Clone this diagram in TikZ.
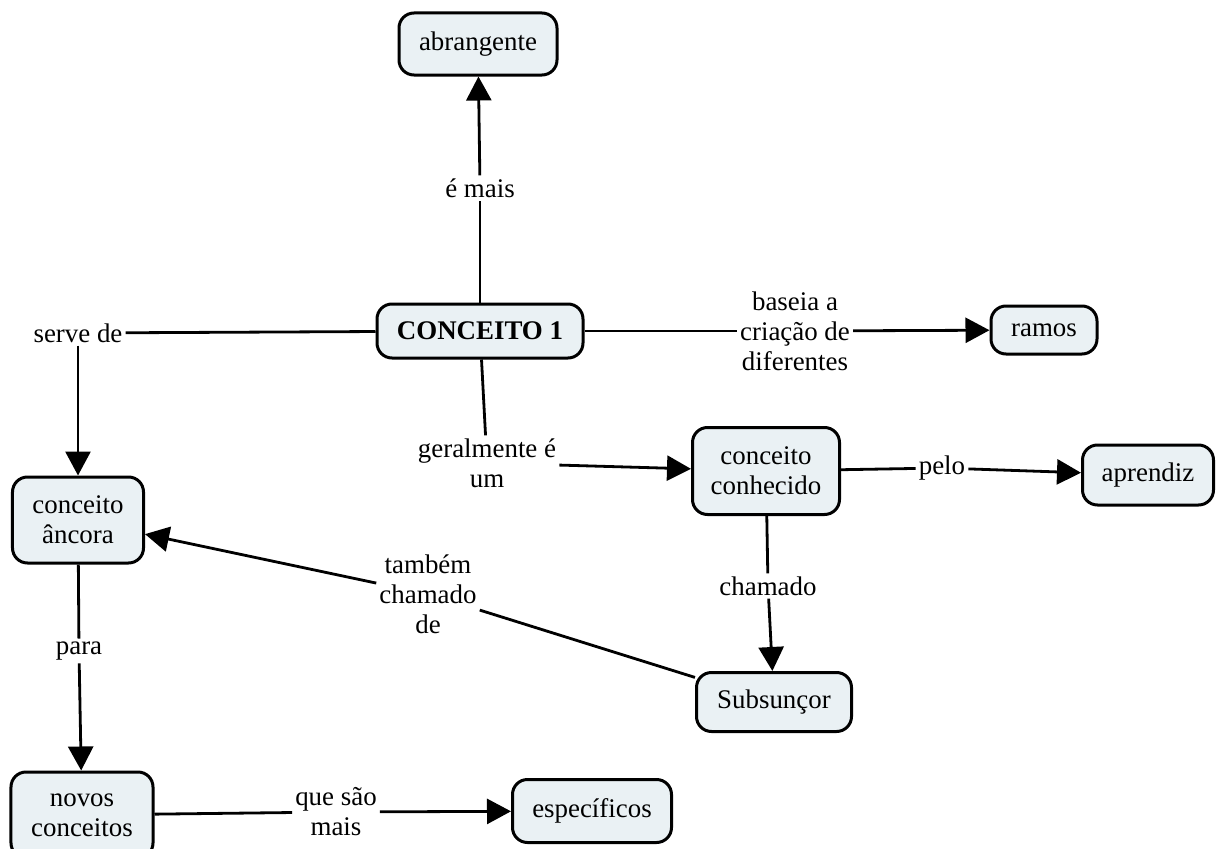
\documentclass[tikz,border=0pt]{standalone}
\usepackage{fontspec}
\setmainfont{Liberation Serif}
\usetikzlibrary{arrows.meta}
\definecolor{conceptfill}{HTML}{EAF1F4}
\begin{document}
\begin{tikzpicture}[x=1bp,y=-1bp,
  concept/.style={draw=black, line width=3bp, fill=conceptfill,
    rounded corners=15bp, align=center, inner sep=0pt,
    font=\fontsize{27}{30}\selectfont},
  linkword/.style={align=center, inner sep=3bp,
    font=\fontsize{27}{30}\selectfont},
  link/.style={line width=2.8bp},
  arrowlink/.style={line width=2.8bp, -{Triangle[length=24bp,width=25bp]}}
]
\useasboundingbox (0,0) rectangle (1217,849);

% concepts
\node[concept, minimum width=158bp, minimum height=62bp] (abr) at (478,44) {abrangente};
\node[concept, minimum width=206bp, minimum height=54bp,
      font=\fontsize{27}{30}\selectfont\bfseries] (c1) at (480,331) {CONCEITO 1};
\node[concept, minimum width=106bp, minimum height=48bp] (ramos) at (1044,330) {ramos};
\node[concept, minimum width=147bp, minimum height=87bp] (conh) at (766,471) {conceito\\conhecido};
\node[concept, minimum width=131bp, minimum height=60bp] (apr) at (1148,475) {aprendiz};
\node[concept, minimum width=131bp, minimum height=86bp] (anc) at (78,520) {conceito\\âncora};
\node[concept, minimum width=155bp, minimum height=59bp] (sub) at (774,702) {Subsunçor};
\node[concept, minimum width=142bp, minimum height=86bp] (novos) at (82,815) {novos\\conceitos};
\node[concept, minimum width=159bp, minimum height=63bp] (esp) at (592,811) {específicos};

% linking phrases
\node[linkword] (lmais) at (480,188) {é mais};
\node[linkword] (lserve) at (78,333) {serve de};
\node[linkword] (lbase) at (795,331) {baseia a\\criação de\\diferentes};
\node[linkword] (lgeral) at (487,463) {geralmente é\\um};
\node[linkword] (lpelo) at (942,468) {pelo};
\node[linkword] (lcham) at (768,586) {chamado};
\node[linkword] (ltamb) at (428,594) {também\\chamado\\de};
\node[linkword] (lpara) at (79,651) {para};
\node[linkword] (lque) at (336,812) {que são\\mais};

% connections
\draw[link] (c1) -- (lmais);
\draw[arrowlink] (lmais) -- (abr);
\draw[link] (c1) -- (lserve);
\draw[arrowlink] (lserve) -- (anc);
\draw[link] (c1) -- (lbase);
\draw[arrowlink] (lbase) -- (ramos);
\draw[link] (c1) -- (lgeral);
\draw[arrowlink] (lgeral) -- (conh);
\draw[link] (conh) -- (lpelo);
\draw[arrowlink] (lpelo) -- (apr);
\draw[link] (conh) -- (lcham);
\draw[arrowlink] (lcham) -- (sub);
\draw[link] (sub) -- (ltamb);
\draw[arrowlink] (ltamb) -- (anc);
\draw[link] (anc) -- (lpara);
\draw[arrowlink] (lpara) -- (novos);
\draw[link] (novos) -- (lque);
\draw[arrowlink] (lque) -- (esp);
\end{tikzpicture}
\end{document}
